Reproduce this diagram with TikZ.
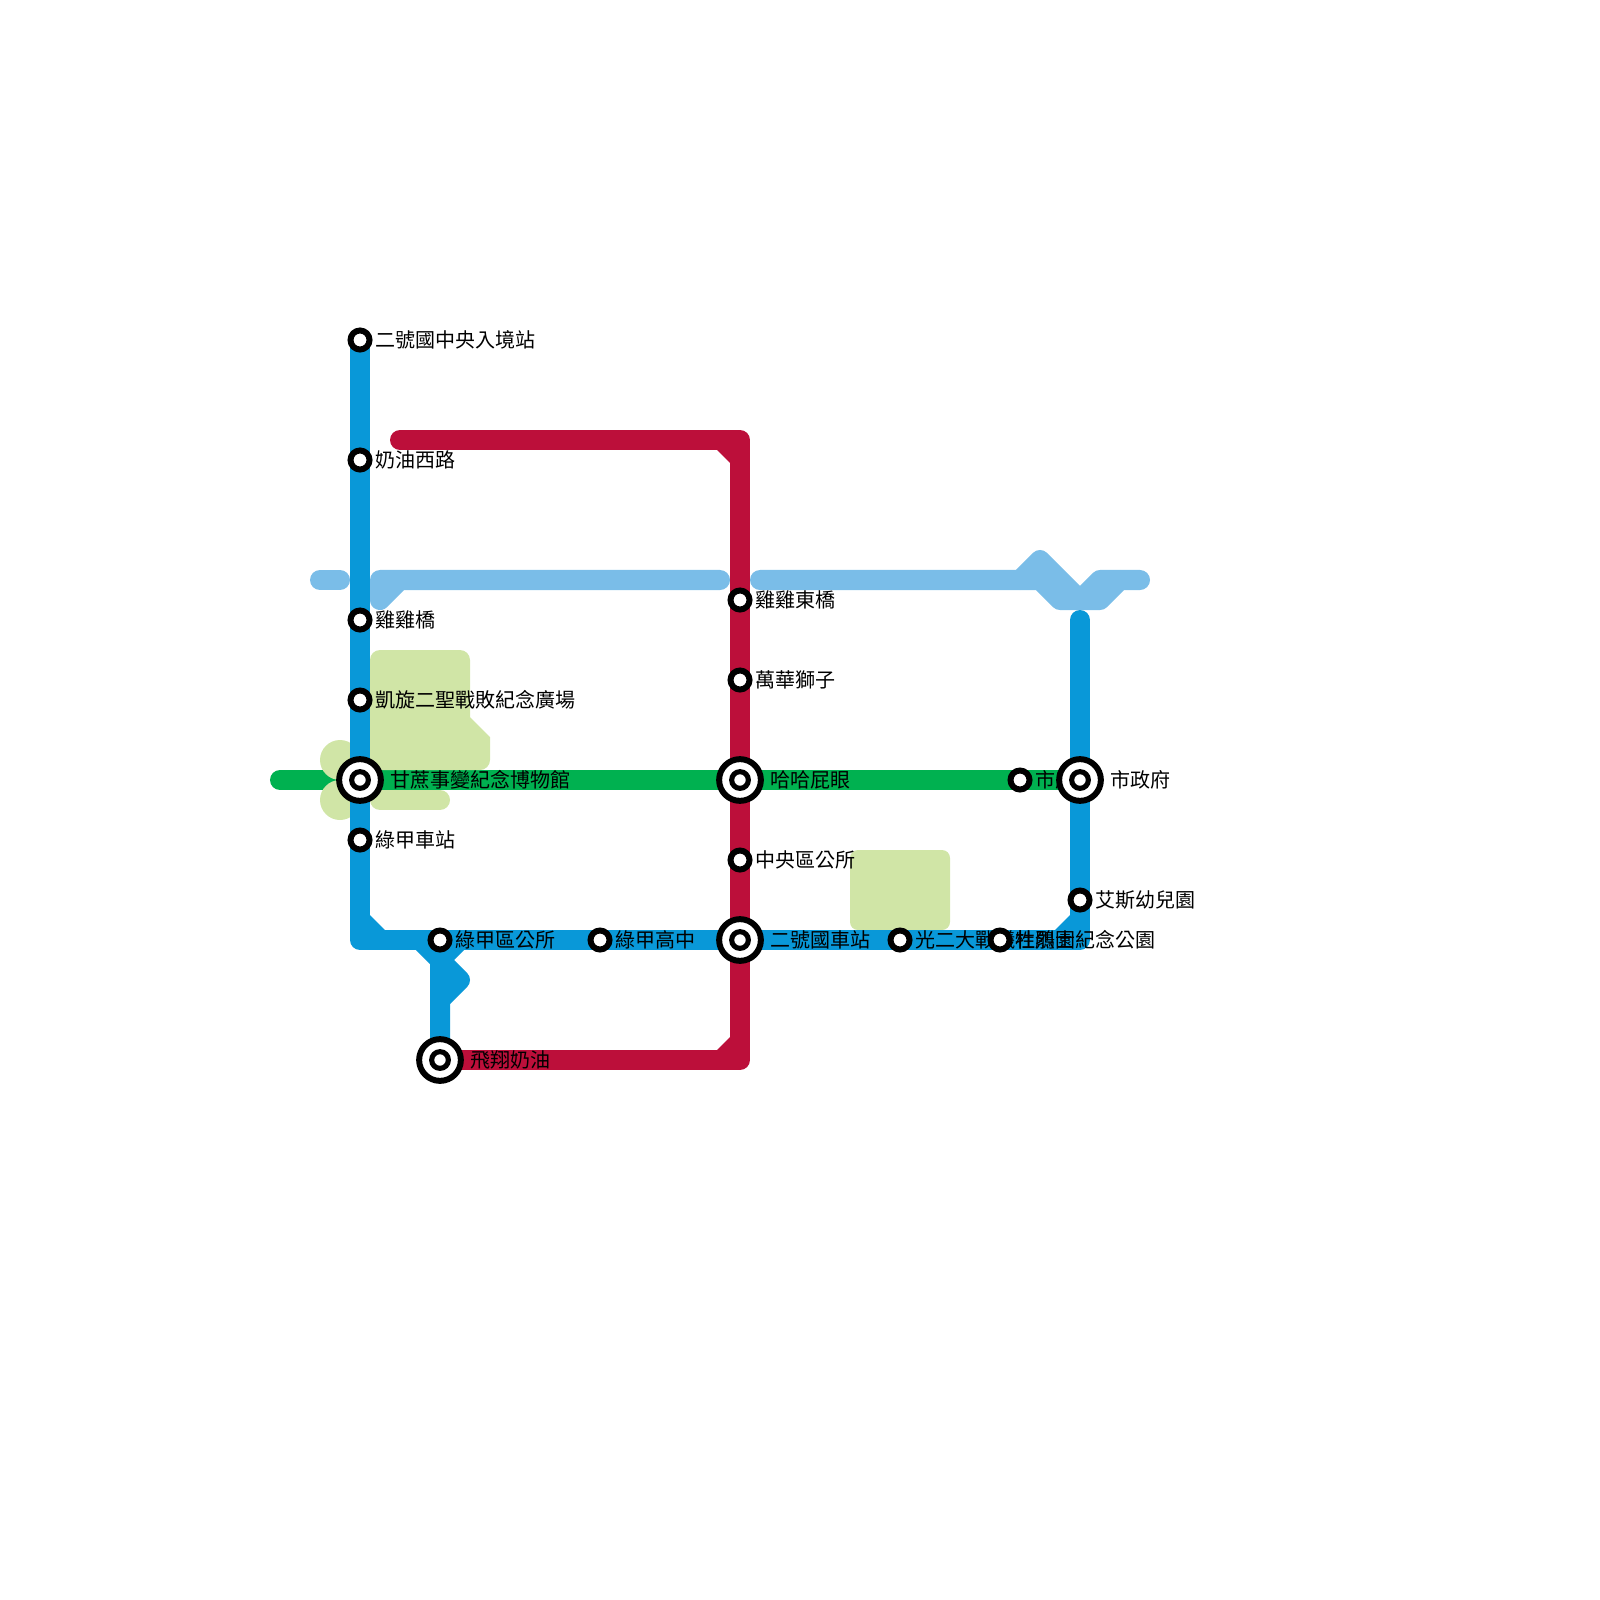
\documentclass[tikz,border=0pt]{standalone}
\usepackage{fontspec}
\newfontfamily\cjk{Noto Sans CJK TC}
\definecolor{lineblue}{RGB}{9,152,216}
\definecolor{linered}{RGB}{188,15,58}
\definecolor{linegreen}{RGB}{0,177,80}
\definecolor{lineplan}{RGB}{122,189,232}
\definecolor{parkgreen}{RGB}{208,229,166}
\tikzset{
  metro/.style={line width=5.69pt, line join=round, line cap=round},
  park/.style={fill=parkgreen},
  station/.style={circle, draw=black, fill=white, line width=1.7pt, minimum size=1.9mm, inner sep=0pt, outer sep=0pt},
  hub/.style={circle, draw=black, fill=white, line width=1.7pt, minimum size=4.17mm, inner sep=0pt, outer sep=0pt},
  hubcore/.style={circle, draw=black, fill=white, line width=1.45pt, minimum size=1.67mm, inner sep=0pt, outer sep=0pt},
  stationlabel/.style={anchor=west, inner sep=0pt, font=\cjk\fontsize{5.69}{6.8}\selectfont},
}
\begin{document}
\begin{tikzpicture}[x=0.01cm, y=-0.01cm]
  \useasboundingbox (0,0) rectangle (1600,1600);

  % Coordinates of the stops
  \coordinate (entry) at (360,340);
  \coordinate (butter) at (360,460);
  \coordinate (chicken) at (360,620);
  \coordinate (triumph) at (360,700);
  \coordinate (cane) at (360,780);
  \coordinate (lujia) at (360,840);
  \coordinate (corner) at (360,940);
  \coordinate (office) at (440,940);
  \coordinate (school) at (600,940);
  \coordinate (second) at (740,940);
  \coordinate (war) at (900,940);
  \coordinate (garden) at (1000,940);
  \coordinate (cornerb) at (1080,940);
  \coordinate (kinder) at (1080,900);
  \coordinate (cityhall) at (1080,780);
  \coordinate (city) at (1020,780);
  \coordinate (blueend) at (1080,620);
  \coordinate (haha) at (740,780);
  \coordinate (central) at (740,860);
  \coordinate (lion) at (740,680);
  \coordinate (east) at (740,600);
  \coordinate (redstart) at (400,440);
  \coordinate (redtop) at (740,440);
  \coordinate (redbot) at (740,1060);
  \coordinate (fly) at (440,1060);
  \coordinate (greenstart) at (280,780);

  % Green line
  \draw[metro, linegreen] (greenstart) -- (cityhall);

  % Parks
  \fill[park] (340,760) circle (20);
  \fill[park] (340,800) circle (20);
  \fill[park, rounded corners=1mm] (370,770) -- (370,650) -- (470,650) -- (470,680)
    [sharp corners] -- (470,717) -- (490,737) -- (490,750) [rounded corners=1mm] -- (490,770) -- cycle;
  \draw[metro, parkgreen] (380,800) -- (440,800);
  \fill[park, rounded corners=0.8mm] (850,850) rectangle (950,930);

  % Pale line
  \draw[metro, lineplan] (320,580) -- (340,580);
  \draw[metro, lineplan] (720,580) -- (380,580) -- (380,600) -- (400,580);
  \draw[metro, lineplan] (760,580) -- (1040,580) -- (1060,600) -- (1100,600) -- (1120,580) -- (1140,580);
  \draw[metro, lineplan] (1020,580) -- (1040,560) -- (1080,600) -- (1100,580) -- (1120,580);

  % Red line
  \draw[metro, linered] (redstart) -- (redtop) -- (redbot) -- (fly);
  \fill[linered] (717,450) -- (730,450) -- (730,463) -- cycle;
  \fill[linered] (717,1050) -- (730,1050) -- (730,1037) -- cycle;

  % Blue line
  \draw[metro, lineblue] (entry) -- (corner) -- (cornerb) -- (blueend);
  \fill[lineblue] (370,915) -- (370,930) -- (385,930) -- cycle;
  \fill[lineblue] (1055,930) -- (1070,930) -- (1070,915) -- cycle;
  \draw[metro, lineblue] (420,940) -- (440,960) -- (fly);
  \draw[metro, lineblue] (460,940) -- (440,960) -- (460,980) -- (440,1000);

  % Labels
  \node[stationlabel] (lentry) at (375,340) {二號國中央入境站};
  \node[stationlabel] (lbutter) at (375,460) {奶油西路};
  \node[stationlabel] (lchicken) at (375,620) {雞雞橋};
  \node[stationlabel] (ltriumph) at (375,700) {凱旋二聖戰敗紀念廣場};
  \node[stationlabel] (lcane) at (390,780) {甘蔗事變紀念博物館};
  \node[stationlabel] (llujia) at (375,840) {綠甲車站};
  \node[stationlabel] (loffice) at (455,940) {綠甲區公所};
  \node[stationlabel] (lschool) at (615,940) {綠甲高中};
  \node[stationlabel] (lsecond) at (770,940) {二號國車站};
  \node[stationlabel] (lwar) at (915,940) {光二大戰犧牲烈士紀念公園};
  \node[stationlabel] (lgarden) at (1015,940) {杜鵑園};
  \node[stationlabel] (lkinder) at (1095,900) {艾斯幼兒園};
  \node[stationlabel] (lcityhall) at (1110,780) {市政府};
  \node[stationlabel] (lcity) at (1035,780) {市府};
  \node[stationlabel] (lhaha) at (770,780) {哈哈屁眼};
  \node[stationlabel] (lcentral) at (755,860) {中央區公所};
  \node[stationlabel] (llion) at (755,680) {萬華獅子};
  \node[stationlabel] (least) at (755,600) {雞雞東橋};
  \node[stationlabel] (lfly) at (470,1060) {飛翔奶油};

  % Stations
  \foreach \stop in {entry,butter,chicken,triumph,lujia,office,school,war,garden,kinder,city,central,lion,east} {
    \node[station] at (\stop) {};
  }
  \foreach \stop in {cane,second,haha,cityhall,fly} {
    \node[hub] at (\stop) {};
    \node[hubcore] at (\stop) {};
  }
\end{tikzpicture}
\end{document}
